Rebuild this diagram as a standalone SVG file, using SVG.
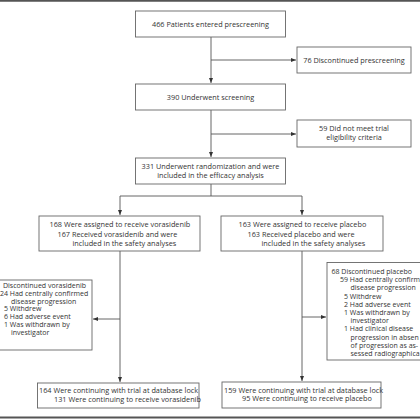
<svg xmlns="http://www.w3.org/2000/svg" width="420" height="420" viewBox="0 0 420 420">
<style>
.box{fill:#fff;stroke:#666;stroke-width:0.9}
.ln{fill:none;stroke:#555;stroke-width:0.9}
text{font-family:"Open Sans","Liberation Sans",Arial,sans-serif;font-size:7.3px;fill:#333}
.s{font-size:7px}
.c{text-anchor:middle}
.bar{stroke:#555;stroke-width:2.2}
</style>
<defs>
<marker id="ah" viewBox="0 0 6 6" refX="6" refY="3" markerWidth="5" markerHeight="5" orient="auto" markerUnits="userSpaceOnUse">
<path d="M0,0.6 L6,3 L0,5.4 Z" fill="#333"/>
</marker>
</defs>
<rect width="420" height="420" fill="#fff"/>
<line class="bar" x1="0" y1="0.6" x2="420" y2="0.6"/>
<line class="bar" x1="0" y1="417.5" x2="420" y2="417.5"/>
<g id="connectors">
<line class="ln" x1="211" y1="37" x2="211" y2="83" marker-end="url(#ah)"/>
<line class="ln" x1="211" y1="60" x2="296" y2="60" marker-end="url(#ah)"/>
<line class="ln" x1="211" y1="110" x2="211" y2="157" marker-end="url(#ah)"/>
<line class="ln" x1="211" y1="134" x2="296" y2="134" marker-end="url(#ah)"/>
<polyline class="ln" points="211,184 211,196"/>
<polyline class="ln" points="120,196 302,196"/>
<line class="ln" x1="120" y1="196" x2="120" y2="215" marker-end="url(#ah)"/>
<line class="ln" x1="302" y1="196" x2="302" y2="215" marker-end="url(#ah)"/>
<line class="ln" x1="120" y1="251" x2="120" y2="382" marker-end="url(#ah)"/>
<line class="ln" x1="120" y1="319" x2="93" y2="319" marker-end="url(#ah)"/>
<line class="ln" x1="302" y1="251" x2="302" y2="381" marker-end="url(#ah)"/>
<line class="ln" x1="302" y1="317" x2="326" y2="317" marker-end="url(#ah)"/>
</g>
<g id="n466">
<rect class="box" x="135.5" y="11" width="150" height="26"/>
<text class="c" x="210.5" y="26.5">466 Patients entered prescreening</text>
</g>
<g id="n76">
<rect class="box" x="297" y="47" width="114" height="26"/>
<text class="c" x="354" y="62.5">76 Discontinued prescreening</text>
</g>
<g id="n390">
<rect class="box" x="135.5" y="84" width="150" height="26"/>
<text class="c" x="210.5" y="99.5">390 Underwent screening</text>
</g>
<g id="n59">
<rect class="box" x="297" y="120" width="114" height="27"/>
<text class="c" x="354" y="131">59 Did not meet trial</text>
<text class="c" x="354" y="140">eligibility criteria</text>
</g>
<g id="n331">
<rect class="box" x="135.5" y="158" width="150" height="26"/>
<text class="c" x="210.5" y="168.5">331 Underwent randomization and were</text>
<text class="c" x="210.5" y="177.5">included in the efficacy analysis</text>
</g>
<g id="nvor">
<rect class="box" x="39" y="216" width="161" height="35"/>
<text x="49.5" y="227">168 Were assigned to receive vorasidenib</text>
<text x="57.5" y="236.5">167 Received vorasidenib and were</text>
<text x="72.5" y="246">included in the safety analyses</text>
</g>
<g id="npla">
<rect class="box" x="221" y="216" width="162" height="35"/>
<text x="238.5" y="227">163 Were assigned to receive placebo</text>
<text x="247.5" y="236.5">163 Received placebo and were</text>
<text x="261.5" y="246">included in the safety analyses</text>
</g>
<g id="ndisv">
<rect class="box" x="-2" y="280" width="94" height="70"/>
<text class="s" x="3" y="288">Discontinued vorasidenib</text>
<text class="s" x="0" y="295.8">24 Had centrally confirmed</text>
<text class="s" x="11" y="303.6">disease progression</text>
<text class="s" x="4" y="311.4">5 Withdrew</text>
<text class="s" x="4" y="319.2">6 Had adverse event</text>
<text class="s" x="4" y="327">1 Was withdrawn by</text>
<text class="s" x="11" y="334.8">investigator</text>
</g>
<g id="ndisp">
<rect class="box" x="327" y="262.5" width="100" height="97.5"/>
<text class="s" x="331.5" y="274">68 Discontinued placebo</text>
<text class="s" x="340" y="282.2">59 Had centrally confirm</text>
<text class="s" x="350.5" y="290.4">disease progression</text>
<text class="s" x="344" y="298.6">5 Withdrew</text>
<text class="s" x="344" y="306.8">2 Had adverse event</text>
<text class="s" x="344" y="315">1 Was withdrawn by</text>
<text class="s" x="350.5" y="323.2">investigator</text>
<text class="s" x="344" y="331.4">1 Had clinical disease</text>
<text class="s" x="350.5" y="339.6">progression in absen</text>
<text class="s" x="350.5" y="347.8">of progression as as-</text>
<text class="s" x="350.5" y="356">sessed radiographica</text>
</g>
<g id="nendv">
<rect class="box" x="37.5" y="383" width="161.5" height="25"/>
<text x="39" y="393">164 Were continuing with trial at database lock</text>
<text x="54" y="401.5">131 Were continuing to receive vorasidenib</text>
</g>
<g id="nendp">
<rect class="box" x="222" y="382" width="159" height="26"/>
<text x="224" y="392.5">159 Were continuing with trial at database lock</text>
<text x="242" y="401">95 Were continuing to receive placebo</text>
</g>
</svg>
